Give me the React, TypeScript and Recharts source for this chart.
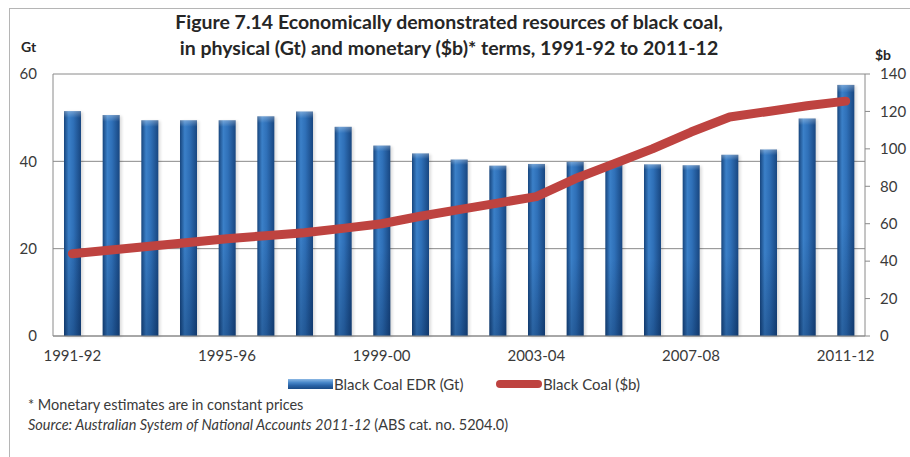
import React from "react";
import { ComposedChart, Bar, Line, XAxis, YAxis, CartesianGrid } from "recharts";

const years = [
  "1991-92", "1992-93", "1993-94", "1994-95", "1995-96", "1996-97", "1997-98",
  "1998-99", "1999-00", "2000-01", "2001-02", "2002-03", "2003-04", "2004-05",
  "2005-06", "2006-07", "2007-08", "2008-09", "2009-10", "2010-11", "2011-12",
];
const edrGt = [
  51.5, 50.6, 49.4, 49.4, 49.4, 50.3, 51.4, 47.9, 43.6, 41.8, 40.4,
  39.0, 39.4, 39.9, 39.5, 39.3, 39.1, 41.5, 42.7, 49.8, 57.5,
];
const valueB = [
  44, 46, 48, 50, 52, 53.6, 55.2, 57.5, 60, 64, 67.5,
  71, 74.5, 84, 92, 100, 109, 117, 120, 123, 125.5,
];
const gtTicks = [0, 20, 40, 60];
const bTicks = [0, 20, 40, 60, 80, 100, 120, 140];

const data = years.map((year, i) => ({ year, edr: edrGt[i], value: valueB[i] }));

const FONT = "Lato, 'Open Sans', sans-serif";
const TEXT = "#3a3a3a";
const RED = "#be4340";

const CylinderBar = (props: any) => {
  const { x, y, width, height } = props;
  if (!height || height <= 0) return null;
  return (
    <g>
      <rect x={x + 2} y={y + 1} width={width} height={height} fill="#000" opacity={0.14} filter="url(#barShadow)" />
      <rect x={x} y={y} width={width} height={height} fill="url(#barSide)" />
      <rect x={x} y={y} width={width} height={height} fill="url(#barDepth)" />
    </g>
  );
};

export default function App() {
  return (
    <div style={{ position: "absolute", left: 0, top: 0, width: 910, height: 457, background: "#fff", fontFamily: FONT, overflow: "hidden" }}>
      <div style={{ position: "absolute", left: 9, top: 8, width: 905, height: 460, borderTop: "1px solid #b5b5b5", borderLeft: "1px solid #b5b5b5" }} />
      <div style={{ position: "absolute", left: 0, top: 9, width: 898, textAlign: "center", fontWeight: 700, fontSize: 19.5, lineHeight: "26px", color: "#262626" }}>
        Figure 7.14 Economically demonstrated resources of black coal,
        <br />
        in physical (Gt) and monetary ($b)* terms, 1991-92 to 2011-12
      </div>
      <div style={{ position: "absolute", left: 21, top: 38, fontWeight: 700, fontSize: 14, color: "#262626" }}>Gt</div>
      <div style={{ position: "absolute", left: 875, top: 46, fontWeight: 700, fontSize: 14, color: "#262626" }}>$b</div>

      <div style={{ position: "absolute", left: 0, top: 0 }}>
        <ComposedChart width={910} height={457} data={data} margin={{ top: 74, left: 13, right: 5, bottom: 91 }} barCategoryGap={0}>
          <defs>
            <linearGradient id="barSide" x1="0" y1="0" x2="1" y2="0">
              <stop offset="0%" stopColor="#17457d" />
              <stop offset="28%" stopColor="#3b80c8" />
              <stop offset="55%" stopColor="#2f70b8" />
              <stop offset="100%" stopColor="#184680" />
            </linearGradient>
            <linearGradient id="barDepth" x1="0" y1="0" x2="0" y2="1">
              <stop offset="0%" stopColor="#ffffff" stopOpacity={0.3} />
              <stop offset="3%" stopColor="#ffffff" stopOpacity={0} />
              <stop offset="55%" stopColor="#001a40" stopOpacity={0} />
              <stop offset="100%" stopColor="#001a40" stopOpacity={0.3} />
            </linearGradient>
            <filter id="barShadow" x="-50%" y="-10%" width="200%" height="120%">
              <feGaussianBlur stdDeviation="1.5" />
            </filter>
          </defs>
          <CartesianGrid yAxisId="left" vertical={false} stroke="#8a8a8a" />
          <XAxis
            dataKey="year"
            interval={3}
            height={30}
            tickLine={false}
            axisLine={{ stroke: "#8a8a8a" }}
            tickSize={0}
            tickMargin={14}
            tick={{ fill: TEXT, fontSize: 15, fontFamily: FONT }}
          />
          <YAxis
            yAxisId="left"
            width={40}
            domain={[0, 60]}
            ticks={gtTicks}
            tickLine={false}
            axisLine={{ stroke: "#8a8a8a" }}
            tickSize={0}
            tickMargin={16}
            tick={{ fill: TEXT, fontSize: 15, fontFamily: FONT }}
          />
          <YAxis
            yAxisId="right"
            orientation="right"
            width={40}
            domain={[0, 140]}
            ticks={bTicks}
            tickLine={{ stroke: "#8a8a8a" }}
            axisLine={{ stroke: "#8a8a8a" }}
            tickSize={5}
            tickMargin={10}
            tick={{ fill: TEXT, fontSize: 15, fontFamily: FONT }}
          />
          <Bar yAxisId="left" dataKey="edr" name="Black Coal EDR (Gt)" barSize={17} shape={<CylinderBar />} isAnimationActive={false} />
          <Line
            yAxisId="right"
            dataKey="value"
            name="Black Coal ($b)"
            type="linear"
            stroke={RED}
            strokeWidth={9}
            strokeLinecap="round"
            strokeLinejoin="round"
            dot={false}
            activeDot={false}
            isAnimationActive={false}
          />
        </ComposedChart>
      </div>

      <div style={{ position: "absolute", left: 0, top: 374, width: 910, height: 20, fontSize: 15, color: TEXT }}>
        <span style={{ position: "absolute", left: 288, top: 5, width: 45, height: 10, background: "linear-gradient(to bottom, #8cb8e4, #4a88c9 35%, #2a64a8 65%, #1a4a84)" }} />
        <span style={{ position: "absolute", left: 334, top: 0, lineHeight: "20px" }}>Black Coal EDR (Gt)</span>
        <span style={{ position: "absolute", left: 496, top: 6, width: 46, height: 8, borderRadius: 4, background: RED }} />
        <span style={{ position: "absolute", left: 543, top: 0, lineHeight: "20px" }}>Black Coal ($b)</span>
      </div>

      <div style={{ position: "absolute", left: 28, top: 395, fontSize: 14.5, color: TEXT, lineHeight: "20px" }}>
        <div>* Monetary estimates are in constant prices</div>
        <div>
          <i>Source: Australian System of National Accounts 2011-12</i> (ABS cat. no. 5204.0)
        </div>
      </div>
    </div>
  );
}
